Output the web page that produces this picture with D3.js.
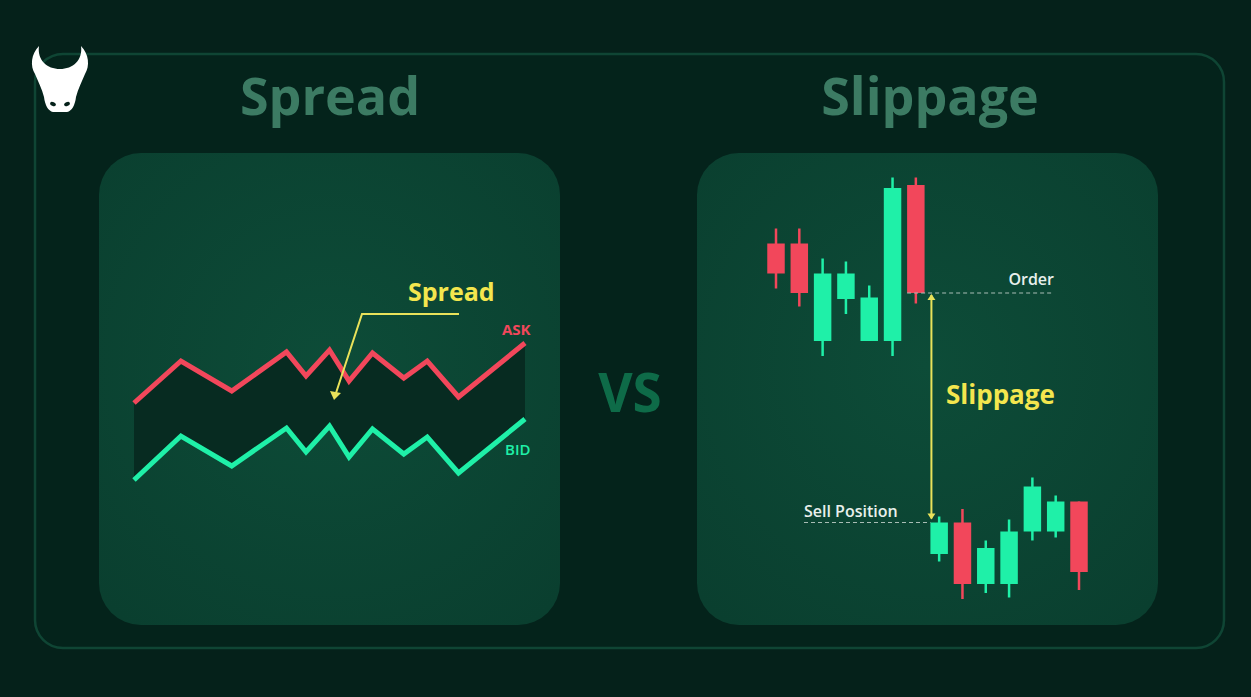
<!DOCTYPE html>
<html>
<head>
<meta charset="utf-8">
<script src="https://cdn.jsdelivr.net/npm/d3@7"></script>
<style>
  html, body { margin: 0; padding: 0; background: #05211a; }
  svg { display: block; }
  text { font-family: "Open Sans", "Noto Sans", sans-serif; }
</style>
</head>
<body>
<div id="chart"></div>
<script>
// ---- data ----
// spread panel: time position (0-100) and ask / bid prices
var spreadX = [0, 12, 25, 39, 44, 50, 55, 61, 69, 75, 83, 100];
var askVals = [48.5, 69.5, 54.5, 74, 62, 75, 59.5, 73.5, 61, 69.5, 51.5, 78.5];
var bidVals = [10, 32, 17, 36, 24, 37, 21.5, 35.5, 23, 31.5, 13.5, 40.5];

// slippage panel: candles (open, high, low, close)
var candleOpen  = [125.5, 125.5, 93, 107, 93, 93, 145, 22, 32.5, 12, 12, 29.5, 29.5, 39.5];
var candleHigh  = [130.5, 130.5, 120.5, 119.5, 111.5, 147.5, 147.5, 34.5, 37, 26.5, 33.5, 47.5, 41.5, 39.5];
var candleLow   = [110.5, 104.5, 88, 102, 93, 88, 105.5, 19.5, 7, 9, 7.5, 26.5, 27.5, 10];
var candleClose = [115.5, 109, 115.5, 115.5, 107.5, 144, 109, 32.5, 12, 24, 29.5, 44.5, 39.5, 16];
var orderPrice = 109;
var sellPrice = 32.5;

var titles = ["Spread", "Slippage"];

var width = 1251,
    height = 697;

var red = "#f2475b",
    green = "#1ff0a8",
    yellow = "#f3e64e";

var svg = d3.select("#chart")
    .append("svg")
    .attr("width", width)
    .attr("height", height);

var defs = svg.append("defs");
var grad = defs.append("radialGradient")
    .attr("id", "panelGrad")
    .attr("cx", "50%").attr("cy", "45%").attr("r", "70%");
grad.append("stop").attr("offset", "0%").attr("stop-color", "#0d4c38");
grad.append("stop").attr("offset", "100%").attr("stop-color", "#0a3f2f");

svg.append("rect")
    .attr("width", width)
    .attr("height", height)
    .attr("fill", "#05211a");

// outer frame
svg.append("rect")
    .attr("x", 35).attr("y", 54)
    .attr("width", 1189).attr("height", 594)
    .attr("rx", 28)
    .attr("fill", "#04231b")
    .attr("stroke", "#0f4534")
    .attr("stroke-width", 2.5);

// panels
[99, 697].forEach(function(px) {
    svg.append("rect")
        .attr("x", px).attr("y", 153)
        .attr("width", 461).attr("height", 472)
        .attr("rx", 42)
        .attr("fill", "url(#panelGrad)");
});

// logo (bull head)
var logo = svg.append("g").attr("class", "logo");
logo.append("path")
    .attr("d", "M39 46 C31 54 30 66 35 74 C38 81 42 89 44 97 C45 105 48 111 53 112 L67 112 C72 111 75 105 76 97 C78 89 82 81 85 74 C90 66 89 54 81 46 C83 60 73 69 60 69 C47 69 37 60 39 46 Z")
    .attr("fill", "#ffffff");
logo.append("ellipse").attr("cx", 53).attr("cy", 104).attr("rx", 3).attr("ry", 2)
    .attr("transform", "rotate(25 53 104)").attr("fill", "#05211a");
logo.append("ellipse").attr("cx", 67).attr("cy", 104).attr("rx", 3).attr("ry", 2)
    .attr("transform", "rotate(-25 67 104)").attr("fill", "#05211a");

// titles
svg.selectAll("text.title")
    .data(titles)
    .enter().append("text")
    .attr("class", "title")
    .attr("x", function(d, i) { return i == 0 ? 330 : 930; })
    .attr("y", 115)
    .attr("text-anchor", "middle")
    .attr("font-size", 52)
    .attr("font-weight", 700)
    .attr("fill", "#3c7b63")
    .text(function(d) { return d; });

svg.append("text")
    .attr("x", 630).attr("y", 412)
    .attr("text-anchor", "middle")
    .attr("font-size", 53)
    .attr("font-weight", 700)
    .attr("fill", "#0e6b48")
    .text("VS");

// ---- spread panel ----
var xS = d3.scaleLinear().domain([0, 100]).range([134, 525]);
var yS = d3.scaleLinear().domain([0, 100]).range([500, 300]);

var spreadData = spreadX.map(function(x, i) {
    return { x: x, ask: askVals[i], bid: bidVals[i] };
});

svg.append("path")
    .datum(spreadData)
    .attr("fill", "#072b21")
    .attr("d", d3.area()
        .x(function(d) { return xS(d.x); })
        .y0(function(d) { return yS(d.bid); })
        .y1(function(d) { return yS(d.ask); }));

var askLine = d3.line().x(function(d) { return xS(d.x); }).y(function(d) { return yS(d.ask); });
var bidLine = d3.line().x(function(d) { return xS(d.x); }).y(function(d) { return yS(d.bid); });

svg.append("path").datum(spreadData)
    .attr("d", askLine).attr("fill", "none")
    .attr("stroke", red).attr("stroke-width", 5).attr("stroke-linejoin", "miter");
svg.append("path").datum(spreadData)
    .attr("d", bidLine).attr("fill", "none")
    .attr("stroke", green).attr("stroke-width", 5).attr("stroke-linejoin", "miter");

svg.append("text")
    .attr("x", 502).attr("y", 335)
    .attr("font-size", 15).attr("font-weight", 700)
    .attr("fill", red).text("ASK");
svg.append("text")
    .attr("x", 505).attr("y", 455)
    .attr("font-size", 15).attr("font-weight", 600)
    .attr("fill", green).text("BID");

// spread pointer
svg.append("text")
    .attr("x", 408).attr("y", 301)
    .attr("font-size", 25).attr("font-weight", 700)
    .attr("fill", yellow).text("Spread");
svg.append("path")
    .attr("d", "M459 314 L362 314 L336 393")
    .attr("fill", "none")
    .attr("stroke", "#e9e25a").attr("stroke-width", 2);
svg.append("path")
    .attr("d", "M330 391 L341 393 L334 400 Z")
    .attr("fill", "#e9e25a");

// ---- slippage panel ----
var xC = d3.scalePoint().domain(d3.range(candleOpen.length)).range([776, 1079]);
var bw = xC.step() * 0.75;
var yC = d3.scaleLinear().domain([0, 150]).range([620, 170]);

var candles = candleOpen.map(function(o, i) {
    return { i: i, o: o, h: candleHigh[i], l: candleLow[i], c: candleClose[i] };
});

var cg = svg.append("g").attr("class", "candles")
    .selectAll("g")
    .data(candles)
    .enter().append("g");

cg.append("line")
    .attr("x1", function(d) { return xC(d.i); })
    .attr("x2", function(d) { return xC(d.i); })
    .attr("y1", function(d) { return yC(d.h); })
    .attr("y2", function(d) { return yC(d.l); })
    .attr("stroke", function(d) { return d.c >= d.o ? green : red; })
    .attr("stroke-width", 2.5);

cg.append("rect")
    .attr("x", function(d) { return xC(d.i) - bw / 2; })
    .attr("width", bw)
    .attr("y", function(d) { return yC(Math.max(d.o, d.c)); })
    .attr("height", function(d) { return Math.abs(yC(d.o) - yC(d.c)); })
    .attr("fill", function(d) { return d.c >= d.o ? green : red; });

// order / sell dashed levels
svg.append("line")
    .attr("x1", xC(6) - bw / 2).attr("x2", 1053)
    .attr("y1", yC(orderPrice)).attr("y2", yC(orderPrice))
    .attr("stroke", "#a9bdb5").attr("stroke-width", 1.2)
    .attr("stroke-dasharray", "4,3");
svg.append("line")
    .attr("x1", 804).attr("x2", xC(7) - bw / 2)
    .attr("y1", yC(sellPrice)).attr("y2", yC(sellPrice))
    .attr("stroke", "#a9bdb5").attr("stroke-width", 1.2)
    .attr("stroke-dasharray", "4,3");

svg.append("text")
    .attr("x", 1054).attr("y", 285)
    .attr("text-anchor", "end")
    .attr("font-size", 16).attr("font-weight", 600)
    .attr("fill", "#e8f0ec").text("Order");
svg.append("text")
    .attr("x", 804).attr("y", 517)
    .attr("font-size", 16).attr("font-weight", 600)
    .attr("fill", "#e8f0ec").text("Sell Position");

// slippage arrow
var ax = xC(7) - bw / 2 + 1;
var yTop = yC(orderPrice), yBot = yC(sellPrice);
svg.append("line")
    .attr("x1", ax).attr("x2", ax)
    .attr("y1", yTop + 2).attr("y2", yBot - 4)
    .attr("stroke", "#e9e25a").attr("stroke-width", 2);
svg.append("path")
    .attr("d", "M" + (ax - 4) + " " + (yTop + 7) + " L" + ax + " " + (yTop + 1) + " L" + (ax + 4) + " " + (yTop + 7) + " Z")
    .attr("fill", "#e9e25a");
svg.append("path")
    .attr("d", "M" + (ax - 4) + " " + (yBot - 9) + " L" + ax + " " + (yBot - 3) + " L" + (ax + 4) + " " + (yBot - 9) + " Z")
    .attr("fill", "#e9e25a");

svg.append("text")
    .attr("x", 946).attr("y", 404)
    .attr("font-size", 26).attr("font-weight", 700)
    .attr("fill", yellow).text("Slippage");
</script>
</body>
</html>
